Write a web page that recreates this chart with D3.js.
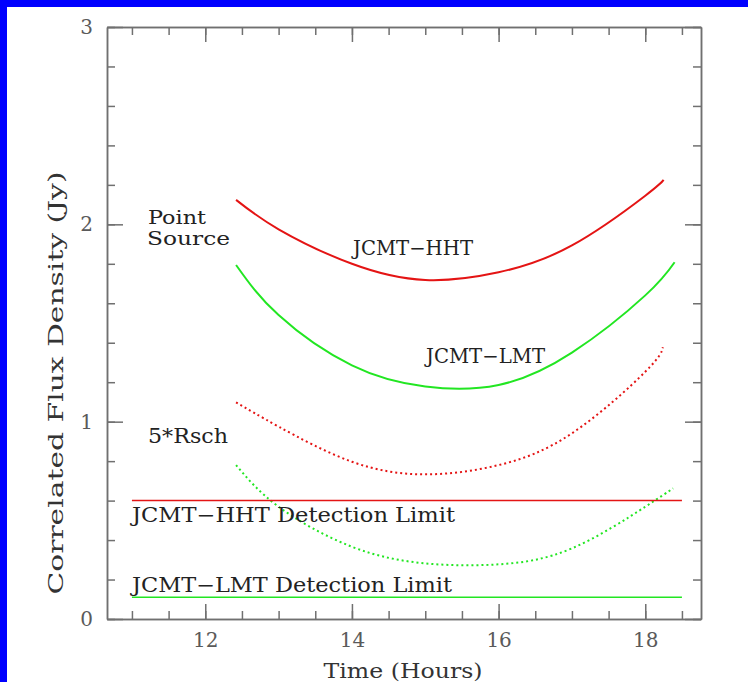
<!DOCTYPE html>
<html>
<head>
<meta charset="utf-8">
<script src="https://cdn.jsdelivr.net/npm/d3@7"></script>
<style>
  html, body { margin: 0; padding: 0; background: #0000ff; }
  svg { display: block; }
  text { font-family: "DejaVu Serif", serif; }
</style>
</head>
<body>
<div id="chartDiv"></div>
<script>
// data
const hhtHours = [12.42, 13, 14, 15, 16, 17, 18, 18.25];
const hhtPoint = [2.124, 1.975, 1.8, 1.718, 1.757, 1.893, 2.145, 2.225];

const lmtHours = [12.42, 13, 14, 15, 16, 17, 18, 18.4];
const lmtPoint = [1.794, 1.54, 1.285, 1.178, 1.186, 1.35, 1.64, 1.808];

const hhtRschHours = [12.42, 13, 14, 15, 16, 17, 18, 18.24];
const hhtRsch = [1.098, 0.975, 0.797, 0.733, 0.78, 0.941, 1.253, 1.377];

const lmtRschHours = [12.42, 13, 14, 15, 16, 17, 18, 18.38];
const lmtRsch = [0.78, 0.569, 0.366, 0.282, 0.277, 0.358, 0.569, 0.662];

const limitHours = [11, 18.5];
const hhtLimit = 0.6;
const lmtLimit = 0.11;

const xMajorTicks = [12, 14, 16, 18];
const yMajorTicks = [0, 1, 2, 3];

const W = 748, H = 682;
const margin = { left: 107, right: 47, top: 27, bottom: 63 };

const red = "#e41414", green = "#22e622", axisGray = "#707070";

const svg = d3.select("#chartDiv").append("svg")
    .attr("width", W)
    .attr("height", H);

// blue frame on top/left, white page
svg.append("rect").attr("width", W).attr("height", H).attr("fill", "#0000ff");
svg.append("rect").attr("x", 7).attr("y", 7).attr("width", W - 7).attr("height", H - 7).attr("fill", "#fff");

const x = d3.scaleLinear().domain([10.66, 18.76]).range([margin.left, W - margin.right]);
const y = d3.scaleLinear().domain([0, 3]).range([H - margin.bottom, margin.top]);

const xMinor = d3.range(11, 18.51, 0.5);
const yMinor = d3.range(0, 3.01, 0.2);

function styleAxis(g){
    g.selectAll("path").attr("stroke", axisGray).attr("stroke-width", 1.5);
    g.selectAll("line").attr("stroke", axisGray).attr("stroke-width", 1.5);
    g.selectAll("text").attr("fill", "#5a5a5a").attr("font-size", 20).attr("font-family", "DejaVu Serif");
}

// bottom
svg.append("g").attr("transform", `translate(0,${y(0)})`)
    .call(d3.axisBottom(x).tickValues(xMinor).tickSize(-8).tickFormat("").tickSizeOuter(0))
    .call(styleAxis);
svg.append("g").attr("transform", `translate(0,${y(0)})`)
    .call(d3.axisBottom(x).tickValues(xMajorTicks).tickSize(-15).tickSizeOuter(0).tickPadding(14).tickFormat(d3.format("d")))
    .call(styleAxis);
// top
svg.append("g").attr("transform", `translate(0,${y(3)})`)
    .call(d3.axisTop(x).tickValues(xMinor).tickSize(-8).tickFormat("").tickSizeOuter(0))
    .call(styleAxis);
svg.append("g").attr("transform", `translate(0,${y(3)})`)
    .call(d3.axisTop(x).tickValues(xMajorTicks).tickSize(-15).tickFormat("").tickSizeOuter(0))
    .call(styleAxis);
// left
svg.append("g").attr("transform", `translate(${x.range()[0]},0)`)
    .call(d3.axisLeft(y).tickValues(yMinor).tickSize(-8).tickFormat("").tickSizeOuter(0))
    .call(styleAxis);
svg.append("g").attr("transform", `translate(${x.range()[0]},0)`)
    .call(d3.axisLeft(y).tickValues(yMajorTicks).tickSize(-16).tickSizeOuter(0).tickPadding(14).tickFormat(d3.format("d")))
    .call(styleAxis);
// right
svg.append("g").attr("transform", `translate(${x.range()[1]},0)`)
    .call(d3.axisRight(y).tickValues(yMinor).tickSize(-8).tickFormat("").tickSizeOuter(0))
    .call(styleAxis);
svg.append("g").attr("transform", `translate(${x.range()[1]},0)`)
    .call(d3.axisRight(y).tickValues(yMajorTicks).tickSize(-16).tickFormat("").tickSizeOuter(0))
    .call(styleAxis);

// curves
const line = d3.line()
    .x(d => x(d[0]))
    .y(d => y(d[1]))
    .curve(d3.curveNatural);

const series = [
    { hours: hhtHours, vals: hhtPoint, color: red, dash: null },
    { hours: lmtHours, vals: lmtPoint, color: green, dash: null },
    { hours: hhtRschHours, vals: hhtRsch, color: red, dash: "2,3" },
    { hours: lmtRschHours, vals: lmtRsch, color: green, dash: "2,3" }
];

svg.selectAll(".curve")
    .data(series)
    .enter().append("path")
    .attr("class", "curve")
    .attr("d", s => line(s.hours.map((h, i) => [h, s.vals[i]])))
    .attr("fill", "none")
    .attr("stroke", s => s.color)
    .attr("stroke-width", 2)
    .attr("stroke-dasharray", s => s.dash);

// detection limits
[[hhtLimit, red], [lmtLimit, green]].forEach(([v, c]) => {
    svg.append("path")
        .attr("d", d3.line()(limitHours.map(h => [x(h), y(v)])))
        .attr("stroke", c)
        .attr("stroke-width", 1.5)
        .attr("fill", "none");
});

// labels
const labels = [
    { t: "Point", x: 148, y: 224, w: 58, fs: 19 },
    { t: "Source", x: 147, y: 245, w: 83, fs: 19 },
    { t: "JCMT\u2212HHT", x: 353, y: 255, w: 120, fs: 20 },
    { t: "JCMT\u2212LMT", x: 426, y: 363, w: 119, fs: 20 },
    { t: "5*Rsch", x: 148, y: 443, w: 80, fs: 20 },
    { t: "JCMT\u2212HHT Detection Limit", x: 132, y: 522, w: 323, fs: 20 },
    { t: "JCMT\u2212LMT Detection Limit", x: 132, y: 592, w: 320, fs: 20 }
];
svg.selectAll(".lbl")
    .data(labels)
    .enter().append("text")
    .attr("class", "lbl")
    .attr("x", d => d.x)
    .attr("y", d => d.y)
    .attr("textLength", d => d.w)
    .attr("lengthAdjust", "spacingAndGlyphs")
    .attr("font-size", d => d.fs)
    .attr("fill", "#222")
    .text(d => d.t);

// axis titles
svg.append("text")
    .attr("x", 403).attr("y", 678)
    .attr("text-anchor", "middle")
    .attr("font-size", 21)
    .attr("fill", "#333")
    .attr("textLength", 159)
    .attr("lengthAdjust", "spacingAndGlyphs")
    .text("Time (Hours)");

svg.append("text")
    .attr("transform", "translate(63,383) rotate(-90)")
    .attr("text-anchor", "middle")
    .attr("font-size", 21)
    .attr("fill", "#333")
    .attr("textLength", 423)
    .attr("lengthAdjust", "spacingAndGlyphs")
    .text("Correlated Flux Density (Jy)");
</script>
</body>
</html>
